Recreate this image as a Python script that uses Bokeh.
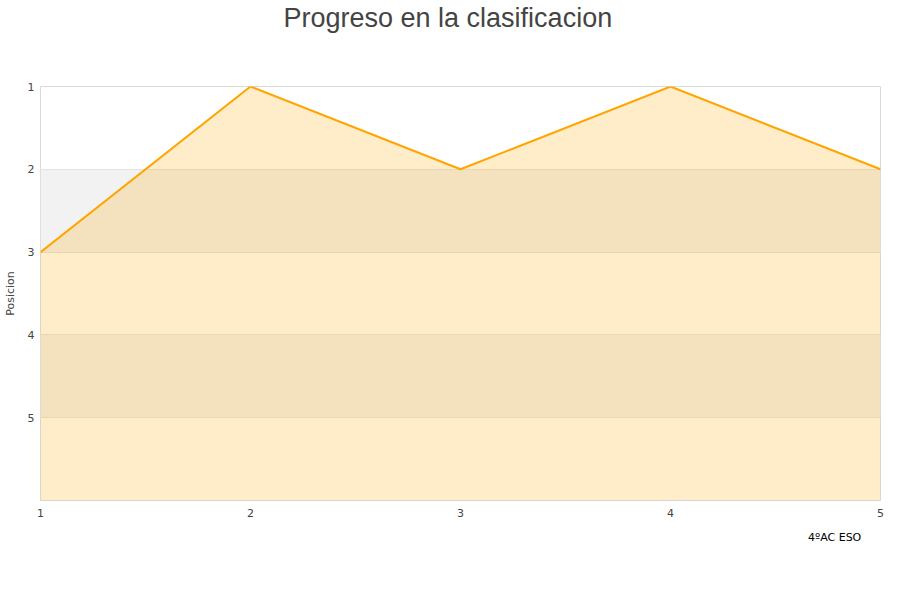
from bokeh.plotting import figure
from bokeh.layouts import column
from bokeh.models import (Range1d, FixedTicker, BoxAnnotation, Legend, LegendItem, Title)
from bokeh.embed import file_html
from bokeh.resources import INLINE

# Round number and league position after each round
rounds = [1, 2, 3, 4, 5]
positions = [3, 1, 2, 1, 2]
series_name = "4ºAC ESO"
y_ticks = [1, 2, 3, 4, 5]
y_bottom = 6

AREA_COLOR = "#ffa500"
SWATCH_FILL = "#ffebc9"
SWATCH_LINE = "#b8a27a"

p = figure(width=900, height=525, frame_width=840, frame_height=414,
           output_backend="svg", toolbar_location=None,
           x_range=Range1d(1, 5), y_range=Range1d(y_bottom, 1),
           min_border_left=40, min_border_right=20, min_border_top=0,
           min_border_bottom=0)

p.title.text = "Progreso en la clasificacion"
p.title.align = "left"
p.title.offset = 243
p.title.text_font = "Liberation Sans"
p.title.text_font_size = "27px"
p.title.text_font_style = "normal"
p.title.text_color = "#444444"
p.title.standoff = 0

# blank spacer between the title and the plot frame
p.add_layout(Title(text=" ", text_font_size="10px", standoff=41), "above")

p.outline_line_color = "#d9d9d9"
p.background_fill_color = "white"

# alternating light bands
for lo, hi in [(2, 3), (4, 5)]:
    p.add_layout(BoxAnnotation(bottom=hi, top=lo, fill_color="#f2f2f2",
                               fill_alpha=1, line_alpha=0, level="image"))

p.xgrid.grid_line_color = None
p.ygrid.grid_line_color = "#e3e3e3"
p.ygrid.ticker = FixedTicker(ticks=y_ticks)

p.varea(x=rounds, y1=positions, y2=[y_bottom] * len(rounds),
        fill_color=AREA_COLOR, fill_alpha=0.21)
p.line(x=rounds, y=positions, line_color=AREA_COLOR, line_width=2)

for ax in (p.xaxis[0], p.yaxis[0]):
    ax.ticker = FixedTicker(ticks=y_ticks if ax is p.yaxis[0] else rounds)
    ax.axis_line_color = None
    ax.major_tick_line_color = None
    ax.minor_tick_line_color = None
    ax.major_tick_in = 0
    ax.major_tick_out = 0
    ax.major_label_text_font = "DejaVu Sans"
    ax.major_label_text_font_size = "11px"
    ax.major_label_text_color = "#444444"

p.xaxis.major_label_standoff = 8
p.yaxis.major_label_standoff = 6
p.yaxis.axis_label = "Posicion"
p.yaxis.axis_label_text_font = "DejaVu Sans"
p.yaxis.axis_label_text_font_size = "11px"
p.yaxis.axis_label_text_font_style = "normal"
p.yaxis.axis_label_text_color = "#444444"
p.yaxis.axis_label_standoff = 8

# strip under the chart that carries the series legend
leg = figure(width=900, height=75, output_backend="svg", toolbar_location=None,
             x_range=Range1d(0, 1), y_range=Range1d(0, 1),
             min_border=0, outline_line_color=None)
leg.axis.visible = False
leg.grid.grid_line_color = None
swatch = leg.quad(left=[], right=[], top=[], bottom=[],
                  fill_color=SWATCH_FILL, line_color=SWATCH_LINE, line_width=1)

legend = Legend(items=[LegendItem(label=series_name, renderers=[swatch])],
                location=(751, 50), padding=0, margin=0, spacing=0,
                glyph_width=9, glyph_height=9, label_height=12,
                label_standoff=8, label_text_font="DejaVu Sans",
                label_text_font_size="11px", label_text_color="#000000",
                border_line_color=None, background_fill_alpha=0)
leg.add_layout(legend, "center")

page = column(p, leg, spacing=0)
open("out.html", "w").write(file_html(page, INLINE))
